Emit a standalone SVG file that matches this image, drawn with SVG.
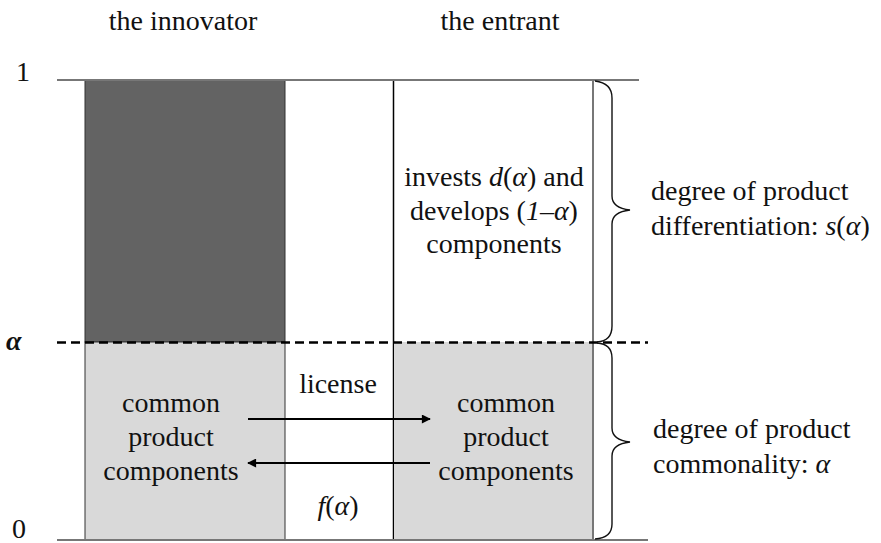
<svg xmlns="http://www.w3.org/2000/svg" width="881" height="543" viewBox="0 0 881 543">
<style>
text{font-family:"Liberation Serif","Times New Roman",serif;font-size:28px;fill:#111}
.c{text-anchor:middle}
.i{font-style:italic}
.axis{stroke:#777;stroke-width:2;fill:none}
.brace{stroke:#111;stroke-width:1.4;fill:none}
.arr{stroke:#000;stroke-width:2;fill:none}
</style>
<defs>
<marker id="ah" viewBox="0 0 10 10" refX="9" refY="5" markerWidth="6" markerHeight="4.5" orient="auto" markerUnits="strokeWidth">
<path d="M0,0 L10,5 L0,10 z" fill="#000"/>
</marker>
</defs>
<rect width="881" height="543" fill="#fff"/>
<g id="headers">
<text class="c" x="183" y="30">the innovator</text>
<text class="c" x="500" y="30">the entrant</text>
</g>
<g id="axis-labels">
<text x="16" y="81">1</text>
<text x="6" y="350" style="font-weight:bold;font-style:italic">α</text>
<text x="12" y="538">0</text>
</g>
<g id="innovator-top">
<rect x="85" y="80" width="200" height="262" fill="#636363" stroke="#333" stroke-width="1"/>
</g>
<g id="innovator-bottom">
<rect x="85" y="342" width="200" height="198" fill="#d9d9d9" stroke="#333" stroke-width="1"/>
<text class="c" x="171" y="412">common</text>
<text class="c" x="171" y="446">product</text>
<text class="c" x="171" y="480">components</text>
</g>
<g id="middle">
<line x1="393.5" y1="80" x2="393.5" y2="540" stroke="#000" stroke-width="1.5"/>
<text class="c" x="338" y="393">license</text>
<text class="c" x="338" y="515"><tspan class="i">f</tspan>(<tspan class="i">α</tspan>)</text>
</g>
<g id="entrant-top">
<text class="c" x="494" y="186">invests <tspan class="i">d</tspan>(<tspan class="i">α</tspan>) and</text>
<text class="c" x="494" y="220">develops (<tspan class="i">1</tspan>–<tspan class="i">α</tspan>)</text>
<text class="c" x="494" y="253">components</text>
</g>
<g id="entrant-bottom">
<rect x="394" y="342" width="199" height="198" fill="#d9d9d9"/>
<text class="c" x="506" y="412">common</text>
<text class="c" x="506" y="446">product</text>
<text class="c" x="506" y="480">components</text>
</g>
<g id="frame">
<line class="axis" x1="57" y1="80" x2="639" y2="80"/>
<line class="axis" x1="57" y1="540" x2="648" y2="540"/>
<line x1="593" y1="80" x2="593" y2="540" stroke="#777" stroke-width="2"/>
<line x1="57" y1="342.5" x2="648" y2="342.5" stroke="#000" stroke-width="2.5" stroke-dasharray="9,5"/>
</g>
<g id="braces">
<path class="brace" d="M595,81 Q612,83 612,98 L612,196 Q612,208 630,210 Q612,212 612,224 L612,326 Q612,341 597,342"/>
<path class="brace" d="M597,343 Q612,344 612,358 L612,428 Q612,440 630,442 Q612,444 612,456 L612,524 Q612,538 595,539"/>
</g>
<g id="brace-labels">
<text x="651" y="200">degree of product</text>
<text x="651" y="235">differentiation: <tspan class="i">s</tspan>(<tspan class="i">α</tspan>)</text>
<text x="653" y="438">degree of product</text>
<text x="653" y="473">commonality: <tspan class="i">α</tspan></text>
</g>
<g id="connectors">
<line class="arr" x1="248" y1="419" x2="430" y2="419" marker-end="url(#ah)"/>
<line class="arr" x1="430" y1="463" x2="248" y2="463" marker-end="url(#ah)"/>
</g>
</svg>
